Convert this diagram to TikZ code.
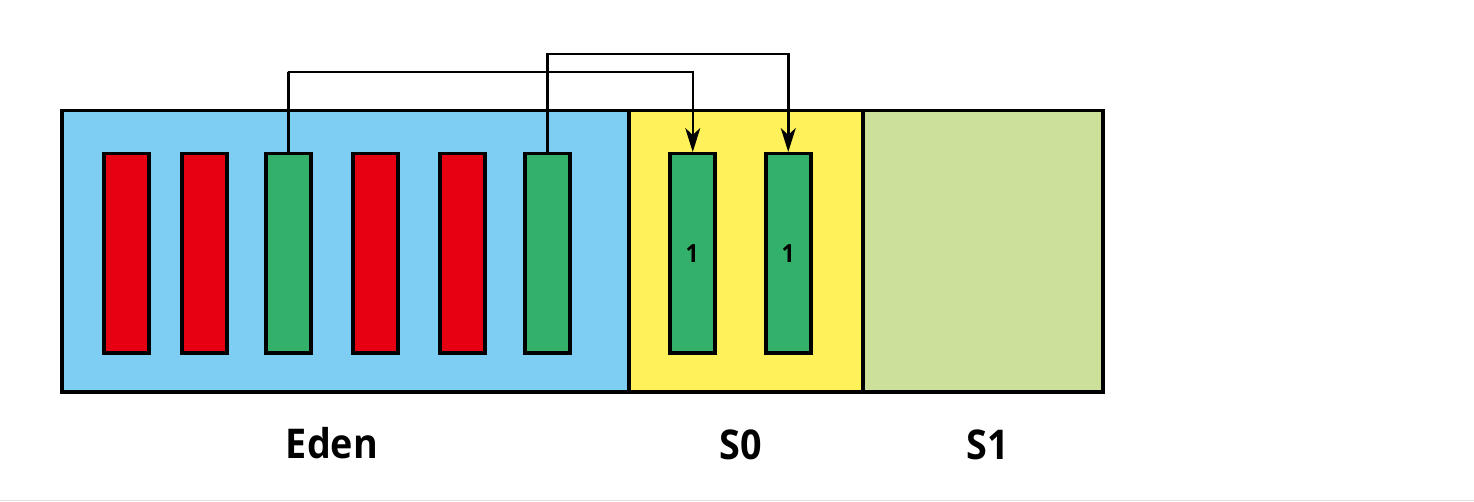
\documentclass[tikz,border=0pt]{standalone}
\usepackage{fontspec}
\setmainfont{Open Sans}[FakeStretch=0.92]
\usetikzlibrary{arrows.meta}
\definecolor{edenblue}{RGB}{126,205,242}
\definecolor{syellow}{RGB}{255,241,90}
\definecolor{sgreen}{RGB}{205,224,154}
\definecolor{objred}{RGB}{230,0,18}
\definecolor{objgreen}{RGB}{51,176,106}
\definecolor{rulegray}{RGB}{225,225,225}
\tikzset{
  region/.style={draw=black, line width=3.5pt, inner sep=0pt, anchor=north west},
  bar/.style={draw=black, line width=3.5pt, inner sep=0pt, minimum width=45pt, minimum height=199pt, anchor=north west},
  deadobj/.style={bar, fill=objred},
  liveobj/.style={bar, fill=objgreen, font=\bfseries\fontsize{25}{25}\selectfont},
  label/.style={font=\bfseries\fontsize{41}{41}\selectfont, inner sep=0pt},
  move/.style={draw=black, line width=2.5pt, -{Stealth[length=24pt,width=15pt,inset=7pt]}}
}
\begin{document}
\begin{tikzpicture}[x=1pt,y=-1pt]
\useasboundingbox (0,0) rectangle (1474,502);
\fill[white] (0,0) rectangle (1474,502);
\draw[rulegray, line width=1.5pt] (0,500.5) -- (1474,500.5);
% regions
\node[region, fill=edenblue, minimum width=567pt, minimum height=281pt] (eden) at (60,109) {};
\node[region, fill=syellow, minimum width=234pt, minimum height=281pt] (s0) at (627,109) {};
\node[region, fill=sgreen, minimum width=240pt, minimum height=281pt] (s1) at (861,109) {};
% objects in eden
\node[deadobj] (e1) at (102,152) {};
\node[deadobj] (e2) at (180,152) {};
\node[liveobj] (e3) at (264,152) {};
\node[deadobj] (e4) at (351,152) {};
\node[deadobj] (e5) at (438,152) {};
\node[liveobj] (e6) at (523,152) {};
% objects in S0
\node[liveobj] (a1) at (668,152) {1};
\node[liveobj] (a2) at (764,152) {1};
% connectors
\coordinate (c1) at (288,72);
\coordinate (c2) at (546,54);
\draw[move] (e3.north) |- (c1) -| ([xshift=0.5pt]a1.north);
\draw[move] (e6.north) |- (c2) -| (a2.north);
% labels
\node[label] (leden) at (332,443) {Eden};
\node[label] (ls0) at (741,445) {S0};
\node[label] (ls1) at (988,445) {S1};
\end{tikzpicture}
\end{document}
